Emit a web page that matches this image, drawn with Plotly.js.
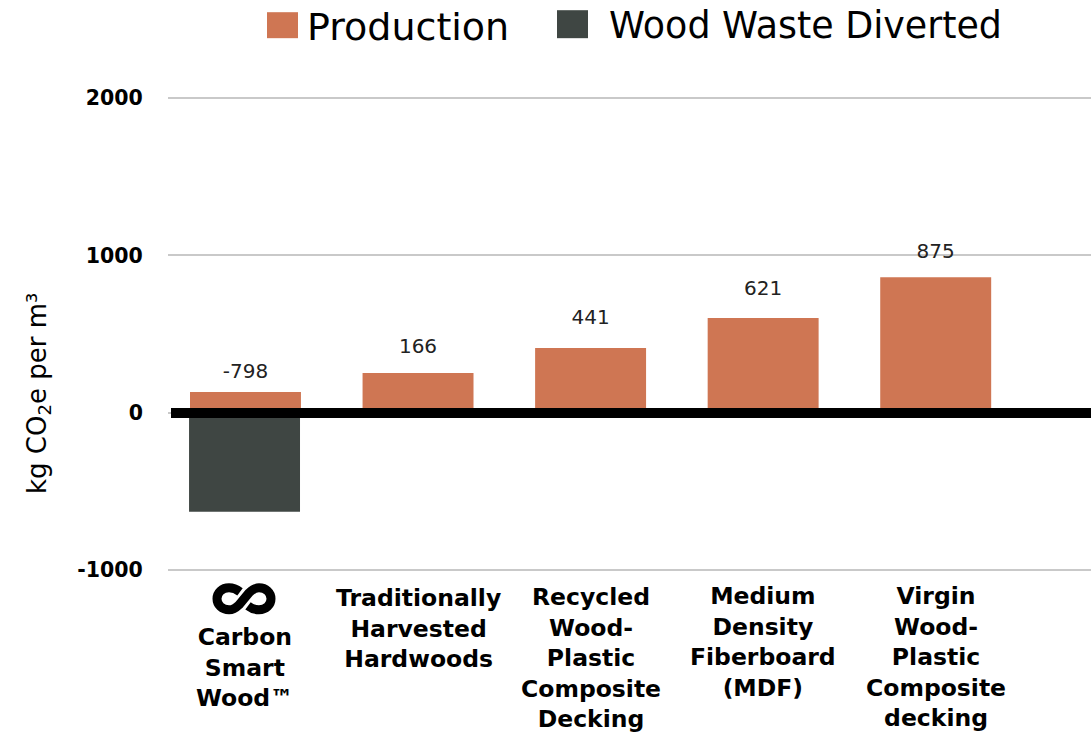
<!DOCTYPE html>
<html><head><meta charset="utf-8">
<script src="https://cdn.plot.ly/plotly-3.0.1.min.js"></script>
<style>html,body{margin:0;padding:0;background:#fff}</style></head>
<body><div id="chart" style="width:1091px;height:733px"></div>
<script>
const categories = ["Carbon Smart Wood", "Traditionally Harvested Hardwoods", "Recycled Wood-Plastic Composite Decking", "Medium Density Fiberboard (MDF)", "Virgin Wood-Plastic Composite decking"];
const categoryLabels = ["Carbon<br>Smart<br>Wood™", "Traditionally<br>Harvested<br>Hardwoods", "Recycled<br>Wood-<br>Plastic<br>Composite<br>Decking", "Medium<br>Density<br>Fiberboard<br>(MDF)", "Virgin<br>Wood-<br>Plastic<br>Composite<br>decking"];
const productionValues = [131, 252, 411, 601, 861];
const divertedValues = [-630, 0, 0, 0, 0];
const valueLabels = ["-798", "166", "441", "621", "875"];
const valueLabelHeights = [252, 410, 594, 778, 1012];
const yTicks = [-1000, 0, 1000, 2000];
const labelTopPixels = [621, 582, 581, 580, 580];
const W = 1091, H = 733, L = 168;
const yMin = -1020, yMax = 2020, pxPerUnit = 0.15733;
const T = 98 - (yMax - 2000) * pxPerUnit, Bottom = 570 + (-1000 - yMin) * pxPerUnit, B = H - Bottom;
const FONT = "'DejaVu Sans', sans-serif";
const ORANGE = "#cf7653", DARK = "#3f4643";
const px = x => (x - L) / (W - L);
const py = y => 1 - (y - T) / (Bottom - T);
const traces = [
 {type:"bar", name:"Production", x:categories, y:productionValues, marker:{color:ORANGE}, width:0.643, showlegend:false, hoverinfo:"x+y"},
 {type:"bar", name:"Wood Waste Diverted", x:categories, y:divertedValues, marker:{color:DARK}, width:0.643, offset:-0.327, showlegend:false, hoverinfo:"x+y"},
 {type:"scatter", mode:"text", x:categories, y:valueLabelHeights, text:valueLabels, textposition:"middle center", textfont:{family:FONT, size:20, color:"#222"}, showlegend:false, hoverinfo:"skip"}
];
const annotations = categories.map((c,i)=>({xref:"x", yref:"paper", x:c, y:py(labelTopPixels[i]), yanchor:"top", xanchor:"center", showarrow:false, align:"center", text:"<b>"+categoryLabels[i]+"</b>", font:{family:FONT, size:23.5, color:"#000"}}));
annotations.push(
 {xref:"paper", yref:"paper", x:px(305), y:py(27), xanchor:"left", yanchor:"middle", showarrow:false, text:"Production", font:{family:FONT, size:38, color:"#000"}},
 {xref:"paper", yref:"paper", x:px(607), y:py(25), xanchor:"left", yanchor:"middle", showarrow:false, text:"Wood Waste Diverted", font:{family:FONT, size:36.4, color:"#000"}},
 {xref:"paper", yref:"paper", x:px(39), y:py(393), xanchor:"center", yanchor:"middle", textangle:-90, showarrow:false, text:"kg CO<sub>2</sub>e per m³", font:{family:FONT, size:26, color:"#000"}}
);
const shapes = [
 {type:"rect", xref:"paper", yref:"paper", x0:px(267), x1:px(298), y0:py(12), y1:py(38), fillcolor:ORANGE, line:{width:0}},
 {type:"rect", xref:"paper", yref:"paper", x0:px(557), x1:px(588), y0:py(10), y1:py(38), fillcolor:DARK, line:{width:0}},
 {type:"line", xref:"paper", yref:"y", x0:px(171), x1:1, y0:-3, y1:-3, line:{color:"#000", width:10}, layer:"above"},
 {type:"path", xref:"paper", yref:"paper", xsizemode:"pixel", ysizemode:"pixel", xanchor:px(244), yanchor:py(599), layer:"above", line:{color:"#000", width:9},
  path:"M -4 7 C -8 10 -11 11 -15 11 C -22 11 -27 6 -27 0 C -27 -6 -22 -11 -15 -11 C -11 -11 -8 -9 -5 -6 L 5 6 C 8 9 11 11 15 11 C 22 11 27 6 27 0 C 27 -6 22 -11 15 -11 C 11 -11 8 -10 4 -7", fillcolor:"rgba(0,0,0,0)"}
];
const layout = {
 width:W, height:H, margin:{l:L, r:0, t:T, b:B}, paper_bgcolor:"#fff", plot_bgcolor:"#fff", barmode:"relative", showlegend:false,
 font:{family:FONT, color:"#000"},
 xaxis:{type:"category", categoryorder:"array", categoryarray:categories, range:[-0.449, 4.9], showticklabels:false, showgrid:false, zeroline:false, ticks:""},
 yaxis:{range:[yMin, yMax], tickmode:"array", tickvals:yTicks, ticktext:yTicks.map(String), showgrid:true, gridcolor:"#c9c9c9", gridwidth:2, zeroline:false, ticks:"outside", ticklen:20, tickcolor:"rgba(0,0,0,0)", tickfont:{family:FONT, size:20.5, weight:700, color:"#000"}, showline:false},
 annotations, shapes
};
Plotly.newPlot("chart", traces, layout, {displayModeBar:false, staticPlot:true});
</script></body></html>
